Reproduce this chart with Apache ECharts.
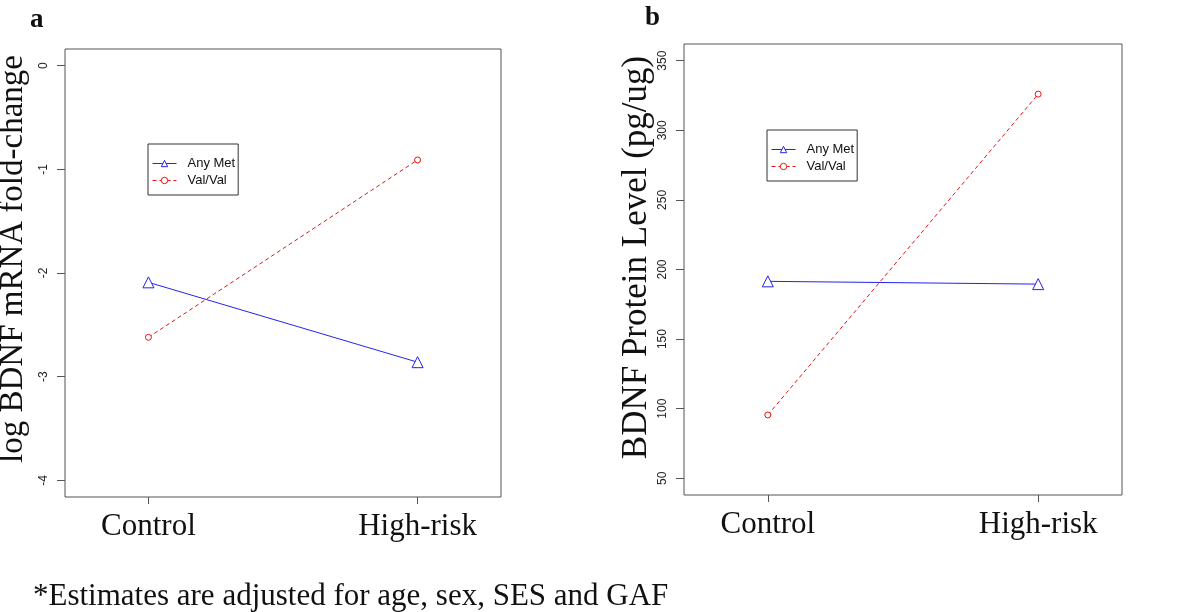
<!DOCTYPE html>
<html>
<head>
<meta charset="utf-8">
<script src="https://cdn.jsdelivr.net/npm/echarts@6/dist/echarts.min.js"></script>
<style>
html,body{margin:0;padding:0;background:#fff;}
#chart{width:1200px;height:612px;}
</style>
</head>
<body>
<div id="chart"></div>
<script>
// ---- data ----
const categories = ['Control', 'High-risk'];
const seriesNames = ['Any Met', 'Val/Val'];
// panel a: log BDNF mRNA fold-change
const mrnaAnyMet = [-2.09, -2.86];
const mrnaValVal = [-2.62, -0.91];
// panel b: BDNF protein level (pg/ug)
const proteinAnyMet = [191.5, 189.5];
const proteinValVal = [95.5, 326];
// tick labels
const mrnaTicks = [0, -1, -2, -3, -4];
const proteinTicks = [50, 100, 150, 200, 250, 300, 350];
const xPositions = [1, 2];

const pairs = vals => vals.map((v, i) => [xPositions[i], v]);

const BLUE = '#2424f0';
const RED = '#f01010';
const FRAME = '#555';
const serif = '"Liberation Serif", "DejaVu Serif", serif';
const sans = '"Liberation Sans", Arial, sans-serif';

function xAxisFor(gi) {
  return {
    type: 'value', gridIndex: gi, min: 0.69, max: 2.31,
    splitLine: { show: false },
    axisLine: { show: false, onZero: false },
    axisTick: { show: true, customValues: xPositions, length: 7, lineStyle: { color: FRAME } },
    axisLabel: {
      customValues: xPositions, margin: 14,
      formatter: v => categories[Math.round(v) - 1] || '',
      fontFamily: serif, fontSize: 31, color: '#111'
    }
  };
}
function yAxisFor(gi, min, max, ticks, name, gap, fs, shift) {
  return {
    type: 'value', gridIndex: gi, min: min, max: max,
    splitLine: { show: false },
    axisLine: { show: false, onZero: false },
    axisTick: { show: true, customValues: ticks, length: 8, lineStyle: { color: FRAME } },
    axisLabel: {
      customValues: ticks, rotate: 90, margin: 15,
      fontFamily: sans, fontSize: 12, color: '#222'
    },
    name: name, nameLocation: 'middle', nameRotate: 90, nameGap: gap,
    nameTextStyle: { fontFamily: serif, fontSize: fs, color: '#111', padding: [0, 0, 0, shift] }
  };
}
function lineSeries(name, gi, vals, isVal) {
  return {
    name: name, type: 'line', xAxisIndex: gi, yAxisIndex: gi,
    data: pairs(vals),
    symbol: isVal ? 'circle' : 'triangle',
    symbolSize: isVal ? 6 : 11,
    showAllSymbol: true,
    lineStyle: { color: isVal ? RED : BLUE, width: 1, type: isVal ? [4, 3] : 'solid' },
    itemStyle: { color: '#fff', borderColor: isVal ? RED : BLUE, borderWidth: 1 },
    emphasis: { disabled: true },
    animation: false
  };
}
function legendFor(left, top) {
  return {
    data: seriesNames, orient: 'vertical', left: left, top: top,
    itemWidth: 24, itemHeight: 8, itemGap: 4,
    padding: [13, 3, 8, 4],
    borderColor: '#333', borderWidth: 1, backgroundColor: '#fff',
    lineStyle: { width: 1 },
    itemStyle: { borderWidth: 1 },
    textStyle: { fontFamily: sans, fontSize: 13, color: '#111', padding: [0, 0, 0, 6] },
    selectedMode: false
  };
}

const chart = echarts.init(document.getElementById('chart'));
chart.setOption({
  backgroundColor: '#fff',
  animation: false,
  title: [
    { text: 'a', left: 25, top: 2, textStyle: { fontFamily: serif, fontSize: 27, fontWeight: 'bold', color: '#111' } },
    { text: 'b', left: 640, top: 0, textStyle: { fontFamily: serif, fontSize: 27, fontWeight: 'bold', color: '#111' } },
    { text: '*Estimates are adjusted for age, sex, SES and GAF', left: 28, top: 576,
      textStyle: { fontFamily: serif, fontSize: 31, fontWeight: 'normal', color: '#111' } }
  ],
  grid: [
    { left: 65, top: 49, width: 436, height: 448, show: true, borderColor: FRAME, borderWidth: 1, backgroundColor: 'transparent', outerBoundsMode: 'none', containLabel: false },
    { left: 684, top: 44, width: 438, height: 451, show: true, borderColor: FRAME, borderWidth: 1, backgroundColor: 'transparent', outerBoundsMode: 'none', containLabel: false }
  ],
  xAxis: [xAxisFor(0), xAxisFor(1)],
  yAxis: [
    yAxisFor(0, -4.16, 0.16, mrnaTicks, 'log BDNF mRNA fold-change', 35, 33, 28),
    yAxisFor(1, 38, 362, proteinTicks, 'BDNF Protein Level (pg/ug)', 30, 35, 24)
  ],
  legend: [legendFor(148, 144), legendFor(767, 130)],
  series: [
    lineSeries('Any Met', 0, mrnaAnyMet, false),
    lineSeries('Val/Val', 0, mrnaValVal, true),
    lineSeries('Any Met', 1, proteinAnyMet, false),
    lineSeries('Val/Val', 1, proteinValVal, true)
  ]
});
</script>
</body>
</html>
